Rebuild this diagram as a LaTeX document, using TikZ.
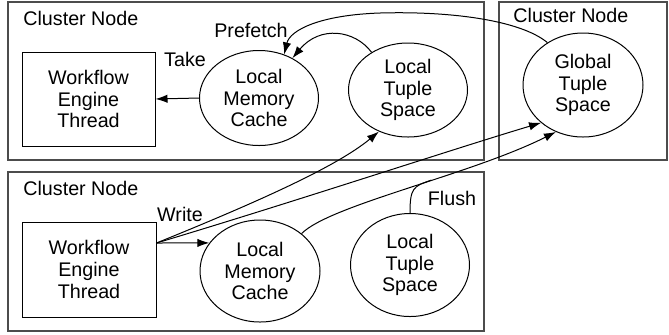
\documentclass[tikz,border=0pt]{standalone}
\usepackage{fontspec}
\setmainfont{Liberation Sans}
\usetikzlibrary{shapes.geometric,arrows.meta,calc}
\newcommand{\diagfs}{\fontsize{9.85}{10.85}\selectfont}
\begin{document}
\begin{tikzpicture}[x=0.5pt,y=-0.5pt,
  cluster/.style={draw=black!70, line width=0.8pt},
  boxnode/.style={draw, rectangle, line width=0.5pt, inner sep=0pt, align=center, font=\diagfs},
  ell/.style={draw, ellipse, line width=0.5pt, inner sep=0pt, align=center, font=\diagfs},
  lbl/.style={inner sep=0pt, font=\diagfs},
  arr/.style={line width=0.5pt, -{Latex[length=6pt,width=4.2pt]}},
  ln/.style={line width=0.5pt}]
\useasboundingbox (0,0) rectangle (669,334);

% cluster boxes
\draw[cluster] (8,2) rectangle (484,160);
\draw[cluster] (499,2) rectangle (667,160);
\draw[cluster] (8,172) rectangle (484,331);

\node[lbl, anchor=west] (cn1) at (23,18) {Cluster Node};
\node[lbl, anchor=west] (cn2) at (513,15) {Cluster Node};
\node[lbl, anchor=west] (cn3) at (23,188) {Cluster Node};

% top cluster
\node[boxnode, minimum width=66.5pt, minimum height=47pt] (wet1) at (88.5,99) {Workflow\\Engine\\Thread};
\node[ell, minimum width=59.5pt, minimum height=47.5pt] (lmc1) at (259,98) {Local\\Memory\\Cache};
\node[ell, minimum width=59.5pt, minimum height=47pt] (lts1) at (408,90) {Local\\Tuple\\Space};
\node[ell, minimum width=60pt, minimum height=52pt] (gts) at (583,85) {Global\\Tuple\\Space};

% bottom cluster
\node[boxnode, minimum width=67pt, minimum height=47.5pt] (wet2) at (89,269.5) {Workflow\\Engine\\Thread};
\node[ell, minimum width=60pt, minimum height=51pt] (lmc2) at (260,271) {Local\\Memory\\Cache};
\node[ell, minimum width=59.5pt, minimum height=51.5pt] (lts2) at (410,265) {Local\\Tuple\\Space};

% labels
\node[lbl] (prefetch) at (251,30) {Prefetch};
\node[lbl] (take) at (185,59) {Take};
\node[lbl] (write) at (180,214) {Write};
\node[lbl] (flush) at (452,198) {Flush};

% top connectors
\draw[arr] (lmc1.west) -- (wet1.east);
\coordinate (pf) at (380,13);
\draw[arr] (gts.130) .. controls (520,20) and (450,11) .. (pf)
  .. controls (320,15) and (290,30) .. (lmc1.60);
\draw[arr] (lts1.134) .. controls (355,30) and (320,25) .. (lmc1.50);

% bottom connectors
\coordinate (w) at ([yshift=13.25pt]wet2.east);
\draw[arr] (w) -- (lmc2.151);
\draw[arr] (w) .. controls (250,205) and (335,168) .. (lts1.235);
\draw[arr] (w) .. controls (300,200) and (450,150) .. (gts.222);
\draw[arr] (lmc2.42) .. controls (330,205) and (470,175) .. (gts.240) coordinate[pos=0.58] (m);
\draw[ln] (lts2.north) .. controls ($(lts2.north)+(0,-25)$) and ($(m)+(-18,6)$) .. (m);
\end{tikzpicture}
\end{document}
